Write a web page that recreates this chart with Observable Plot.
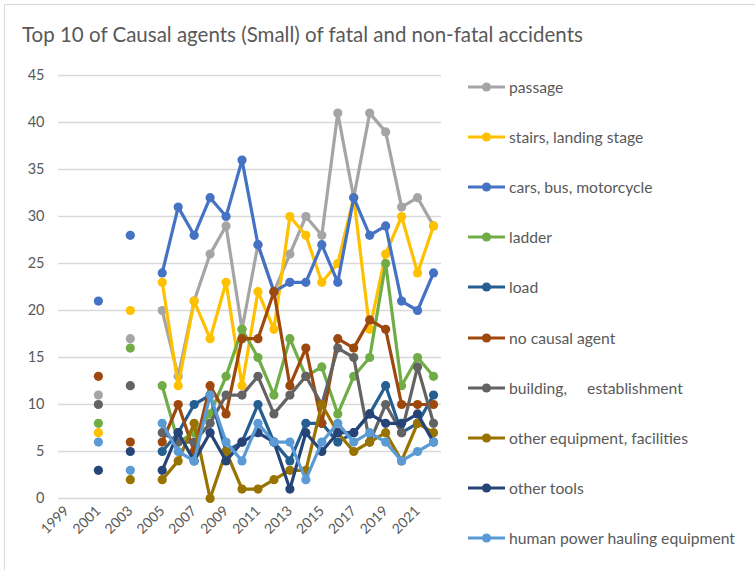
<!DOCTYPE html>
<html>
<head>
<meta charset="utf-8">
<script src="https://cdn.jsdelivr.net/npm/d3@7"></script>
<script src="https://cdn.jsdelivr.net/npm/@observablehq/plot@0.6"></script>
<style>
  html, body { margin: 0; padding: 0; background: #fff; overflow: hidden; }
  #wrap { position: relative; width: 755px; height: 570px; overflow: hidden; font-family: Lato, "Open Sans", sans-serif; }
  #frame { position: absolute; left: 4px; top: 4px; width: 800px; height: 620px; border: 1px solid #D9D9D9; box-sizing: border-box; }
  #title { position: absolute; left: 22px; top: 22px; font-size: 20.5px; color: #595959; white-space: nowrap; }
  #chart { position: absolute; left: 0; top: 0; }
  #legend { position: absolute; left: 468px; top: 0; }
  .item { position: absolute; left: 0; display: flex; align-items: center; white-space: nowrap; font-size: 15.7px; color: #595959; }
  .item svg { margin-right: 4px; }
</style>
</head>
<body>
<div id="wrap">
  <div id="frame"></div>
  <div id="title">Top 10 of Causal agents (Small) of fatal and non-fatal accidents</div>
  <div id="chart"></div>
  <div id="legend"></div>
</div>
<script>
// Categories
const years = [1999, 2000, 2001, 2002, 2003, 2004, 2005, 2006, 2007, 2008, 2009, 2010,
               2011, 2012, 2013, 2014, 2015, 2016, 2017, 2018, 2019, 2020, 2021, 2022];
const tickYears = [1999, 2001, 2003, 2005, 2007, 2009, 2011, 2013, 2015, 2017, 2019, 2021];
const yTicks = [0, 5, 10, 15, 20, 25, 30, 35, 40, 45];

// Series values (one per year above; null = no data)
const passage      = [null,null,11,null,17,null,20,13,21,26,29,18,27,22,26,30,28,41,32,41,39,31,32,29];
const stairs       = [null,null, 7,null,20,null,23,12,21,17,23,12,22,18,30,28,23,25,32,18,26,30,24,29];
const cars         = [null,null,21,null,28,null,24,31,28,32,30,36,27,22,23,23,27,23,32,28,29,21,20,24];
const ladder       = [null,null, 8,null,16,null,12, 6, 7, 9,13,18,15,11,17,13,14, 9,13,15,25,12,15,13];
const load         = [null,null,null,null,null,null, 5, 7,10,11, 5, 6,10, 6, 4, 8, 8, 6, 7, 9,12, 7, 8,11];
const noCausal     = [null,null,13,null, 6,null, 6,10, 5,12, 9,17,17,22,12,16, 8,17,16,19,18,10,10,10];
const building     = [null,null,10,null,12,null, 7, 6, 6, 8,11,11,13, 9,11,13,10,16,15, 6,10, 7,14, 8];
const otherEquip   = [null,null,null,null, 2,null, 2, 4, 8, 0, 5, 1, 1, 2, 3, 3,10, 7, 5, 6, 7, 4, 8, 7];
const otherTools   = [null,null, 3,null, 5,null, 3, 7, 4, 7, 4, 6, 7, 6, 1, 7, 5, 7, 7, 9, 8, 8, 9, 6];
const humanPower   = [null,null, 6,null, 3,null, 8, 5, 4,11, 6, 4, 8, 6, 6, 2, 6, 8, 6, 7, 6, 4, 5, 6];

// Series names and colours
const seriesNames = ["passage", "stairs, landing stage", "cars, bus, motorcycle", "ladder", "load",
  "no causal agent", "building,\u00a0\u00a0\u00a0\u00a0 establishment", "other equipment, facilities",
  "other tools", "human power hauling equipment"];
const seriesValues = [passage, stairs, cars, ladder, load, noCausal, building, otherEquip, otherTools, humanPower];
const seriesColors = ["#A5A5A5", "#FFC000", "#4472C4", "#70AD47", "#255E91",
  "#9E480E", "#636363", "#997300", "#264478", "#5B9BD5"];

const marks = [
  Plot.gridY({ticks: yTicks, stroke: "#D9D9D9", strokeOpacity: 1, strokeWidth: 1.3}),
  Plot.axisY({ticks: yTicks, tickSize: 0, tickPadding: 14, fontSize: 14.5, fill: "#595959", label: null}),
  Plot.axisX({ticks: tickYears, tickFormat: d => String(d), tickSize: 0, tickPadding: 10, tickRotate: -45, fontSize: 14, fill: "#595959", label: null})
];
seriesValues.forEach((vals, i) => {
  const data = years.map((yr, j) => ({year: yr, value: vals[j]}));
  marks.push(Plot.line(data, {x: "year", y: "value", stroke: seriesColors[i], strokeWidth: 3.2, curve: "linear"}));
  marks.push(Plot.dot(data.filter(d => d.value != null), {x: "year", y: "value", r: 4.6, fill: seriesColors[i], stroke: "none"}));
});

const chart = Plot.plot({
  width: 460,
  height: 570,
  marginLeft: 58,
  marginRight: 19,
  marginTop: 75,
  marginBottom: 72,
  style: {fontFamily: "Lato, 'Open Sans', sans-serif", background: "transparent", overflow: "visible"},
  x: {type: "point", domain: years, padding: 0.5, round: false},
  y: {domain: [0, 45]},
  marks
});
document.getElementById("chart").appendChild(chart);

// Legend
const legend = document.getElementById("legend");
seriesNames.forEach((name, i) => {
  const item = document.createElement("div");
  item.className = "item";
  item.style.top = (87 + i * 50.1 - 10) + "px";
  item.style.height = "20px";
  item.innerHTML = `<svg width="37" height="12"><line x1="0" y1="6" x2="37" y2="6" stroke="${seriesColors[i]}" stroke-width="3.2"/><circle cx="18.5" cy="6" r="4.6" fill="${seriesColors[i]}"/></svg><span>${name}</span>`;
  legend.appendChild(item);
});
</script>
</body>
</html>
